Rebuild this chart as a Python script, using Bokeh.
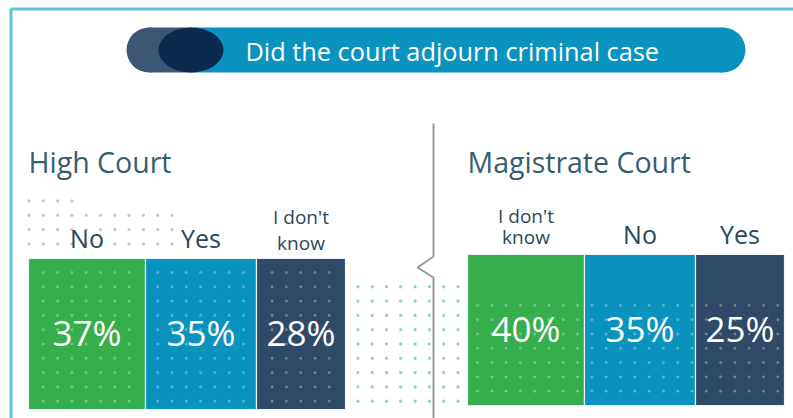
import numpy as np
from bokeh.plotting import figure
from bokeh.models import Range1d
from bokeh.core.properties import value
from bokeh.embed import file_html
from bokeh.resources import INLINE

# ---- data ----
title_text = "Did the court adjourn criminal case"
group_names = ["High Court", "Magistrate Court"]
hc_categories = ["No", "Yes", "I don't\nknow"]
hc_values = [37, 35, 28]
mc_categories = ["I don't\nknow", "No", "Yes"]
mc_values = [40, 35, 25]

# ---- style / layout ----
GREEN, BLUE, NAVY = "#36ae4e", "#0b93bf", "#2f4a69"
BAR_COLORS = [GREEN, BLUE, NAVY]
TITLE_COLOR = "#355e73"
LABEL_COLOR = "#27495d"
FONT = "Open Sans"
BAR_W = [117, 111, 89]

W, H = 793, 418
p = figure(width=W, height=H, output_backend="svg", toolbar_location=None,
           x_range=Range1d(0, W), y_range=Range1d(H, 0),
           min_border=0, outline_line_color=None, background_fill_color="white")
p.axis.visible = False
p.grid.visible = False

# frame
p.line([10.5, 10.5, 800], [430, 8.5, 8.5], line_color="#5ec3d8", line_width=3)

# header pill
p.ellipse(x=[722.5], y=[49.5], width=45, height=45, fill_color=BLUE, line_color=None)
p.quad(left=[195], right=[722.5], top=[27], bottom=[72], fill_color=BLUE, line_color=None)
p.ellipse(x=[148.5], y=[49.5], width=45, height=45, fill_color="#3c5776", line_color=None)
p.quad(left=[148.5], right=[196], top=[27], bottom=[72], fill_color="#3c5776", line_color=None)
p.ellipse(x=[190.5], y=[49.5], width=65, height=45, fill_color="#0a2b4d", line_color=None)
p.text(x=[245], y=[50], text=[title_text], text_color="white",
       text_font=value(FONT), text_font_size="25.3px", text_align="left",
       text_baseline="middle")

# divider with notch
p.line([433, 433, 417, 433, 433], [123, 256, 267, 277, 430],
       line_color="#9a9a9a", line_width=2)

# decorative dot grid
step = 14.3
gx = np.arange(28.5, 480, step)
gy = np.arange(200.5, 405, step)
XX, YY = np.meshgrid(gx, gy)
XX, YY = XX.ravel(), YY.ravel()
m1 = (XX <= 180) & (YY <= 250) & ~((YY < 210) & (XX > 75))
m2 = (XX >= 350) & (XX <= 470) & (YY >= 284)
p.scatter(XX[m1], YY[m1], size=2.5, color="#b9c4c8", alpha=0.8)
p.scatter(XX[m2], YY[m2], size=2.5, color="#7fcfc0", alpha=0.8)

groups = [
    (hc_categories, hc_values, 28, 258, 409, 10, 26),
    (mc_categories, mc_values, 467, 254, 405, 12, 21),
]

for gi, (cats, vals, x0, top, bottom, lab_off, lstep) in enumerate(groups):
    lefts = x0 + np.concatenate([[0], np.cumsum(BAR_W[:-1])])
    rights = lefts + np.array(BAR_W)
    p.quad(left=lefts, right=rights, top=[top] * 3, bottom=[bottom] * 3,
           fill_color=BAR_COLORS, line_color="#e8f4f6", line_width=1.2)
    # subtle dots inside bars
    if gi == 1:
        gx2 = np.arange(x0 + 10, x0 + sum(BAR_W), step)
        gy2 = np.arange(top + 8, bottom, step)
        X2, Y2 = np.meshgrid(gx2, gy2)
        X2, Y2 = X2.ravel(), Y2.ravel()
        k = Y2 > 300
        p.scatter(X2[k], Y2[k], size=2.2, color="white", alpha=0.22)
    else:
        mi = np.zeros(len(XX), dtype=bool)
        for l, r in zip(lefts, rights):
            mi |= (XX > l + 3) & (XX < r - 3) & (YY > top) & (YY < bottom - 3)
        p.scatter(XX[mi], YY[mi], size=2.2, color="white", alpha=0.22)
    centers = (lefts + rights) / 2
    p.text(x=centers, y=[(top + bottom) / 2 - 2] * 3,
           text=[f"{v}%" for v in vals], text_color="white",
           text_font=value(FONT), text_font_size="35px", text_align="center",
           text_baseline="middle")
    for c, cat in zip(centers, cats):
        lines = cat.split("\n")
        if len(lines) == 1:
            p.text(x=[c], y=[top - 21], text=[cat], text_color=LABEL_COLOR,
                   text_font=value(FONT), text_font_size="25px",
                   text_align="center", text_baseline="alphabetic")
        else:
            n = len(lines)
            for li, ln in enumerate(lines):
                p.text(x=[c], y=[top - lab_off - 6 - (n - 1 - li) * lstep], text=[ln],
                       text_color=LABEL_COLOR, text_font=value(FONT),
                       text_font_size="19px", text_align="center",
                       text_baseline="alphabetic")
    p.text(x=[x0], y=[161], text=[group_names[gi]], text_color=TITLE_COLOR,
           text_font=value(FONT), text_font_size="28.5px", text_align="left",
           text_baseline="middle")

open("out.html", "w").write(file_html(p, INLINE))
